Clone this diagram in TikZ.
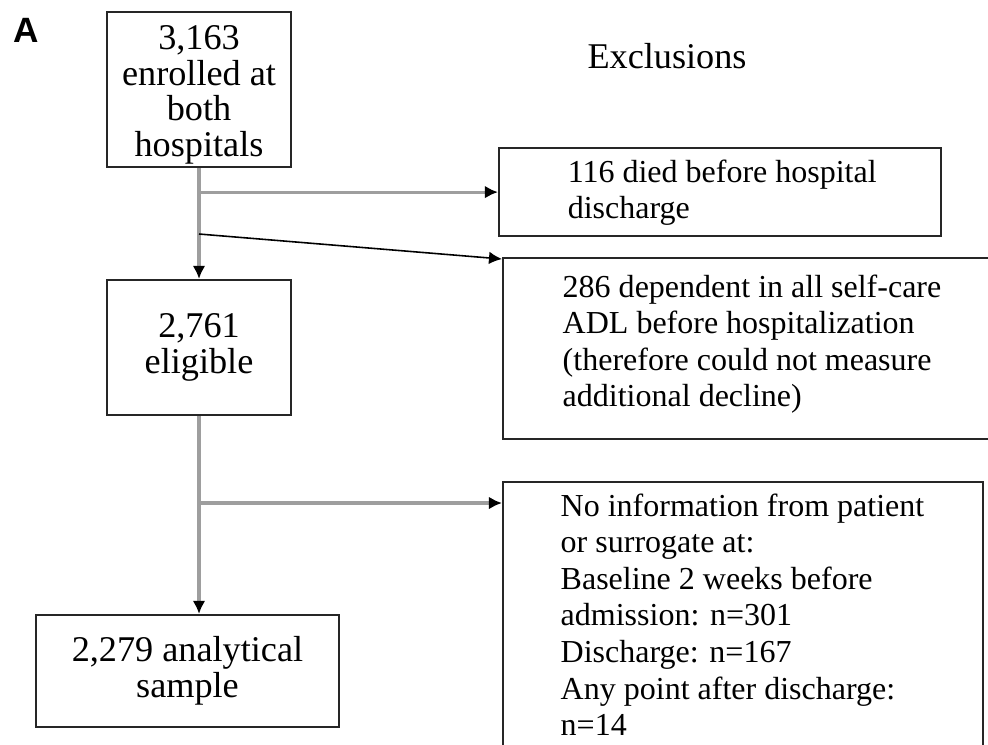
\documentclass[tikz,border=0pt]{standalone}
\usepackage{fontspec}
\setmainfont{Liberation Serif}
\newfontfamily\panelfont{Liberation Sans}
\usetikzlibrary{arrows.meta,positioning}

\begin{document}
\begin{tikzpicture}[x=0.01cm,y=-0.01cm]
%% box, text and line styles
\tikzstyle{flowbox}=[rectangle,draw=black!85,line width=0.6pt,inner sep=0pt,align=center,font=\fontsize{10.3}{10.2}\selectfont]
\tikzstyle{exclbox}=[rectangle,draw=black!85,line width=0.6pt,inner sep=0pt,anchor=north west]
\tikzstyle{excltext}=[inner sep=0pt,align=left,font=\fontsize{9.1}{10.4}\selectfont]
\tikzstyle{trunk}=[draw=black!38,line width=0.9pt,-{Latex[color=black,length=3.7pt,width=3.6pt]}]
\tikzstyle{slant}=[draw=black,line width=0.45pt,-{Latex[color=black,length=3.7pt,width=3.6pt]}]

\useasboundingbox (0,0) rectangle (988,744);
\clip (0,0) rectangle (988,744);

%panel letter and heading
\node[font=\panelfont\bfseries\fontsize{10}{12}\selectfont] (panel) at (26,30) {A};
\node[font=\fontsize{10.3}{12}\selectfont] (excl) at (667,56) {Exclusions};

%%%%%%%%%%%%%%%%%%%%%%%%%%%%%%%%%%%%%%%%%%%%%%%%%%%%%%%%%%%%%%%%%%%%%%%%
%main column
\node[flowbox,minimum width=1.84cm,minimum height=1.55cm,text height=40.5pt,text depth=2.2pt] (enrolled) at (199,89.5) {3,163\\enrolled at\\both\\hospitals};
\node[flowbox,minimum width=1.84cm,minimum height=1.35cm] (eligible) at (199,347.5) {2,761\\eligible};
\node[flowbox,minimum width=3.03cm,minimum height=1.12cm] (sample) at (187.5,671) {2,279 analytical\\sample};

%exclusion boxes
\node[exclbox,minimum width=4.42cm,minimum height=0.88cm] (died) at (498,147) {};
\node[exclbox,minimum width=5.2cm,minimum height=1.81cm] (depend) at (502,257) {};
\node[exclbox,minimum width=4.80cm,minimum height=3.2cm] (noinfo) at (502,481) {};

%exclusion texts
\node[excltext,below right=0.12cm and 0.69cm of died.north west] (diedtxt) {116 died before hospital\\discharge};
\node[excltext,below right=0.17cm and 0.60cm of depend.north west] (dependtxt) {286 dependent in all self-care\\ADL before hospitalization\\(therefore could not measure\\additional decline)};
\node[excltext,below right=0.12cm and 0.58cm of noinfo.north west] (noinfotxt) {No information from patient\\or surrogate at:\\Baseline 2 weeks before\\admission: n=301\\Discharge: n=167\\Any point after discharge:\\n=14};

%%%%%%%%%%%%%%%%%%%%%%%%%%%%%%%%%%%%%%%%%%%%%%%%%%%%%%%%%%%%%%
%ARROWS
%enrolled->eligible
\draw[trunk] (enrolled) -- (eligible);
\coordinate (split1) at (enrolled.south |- died.west);
\draw[trunk] (split1) -- (died.west);
\coordinate (split2) at (199,234);
\draw[slant] (split2) -- ([yshift=-0.02cm]depend.north west);
%eligible->sample
\draw[trunk] (eligible) -- (eligible.south |- sample.north);
\coordinate (split3) at (199,503);
\draw[trunk] (split3) -- (split3 -| noinfo.west);
\end{tikzpicture}
\end{document}
